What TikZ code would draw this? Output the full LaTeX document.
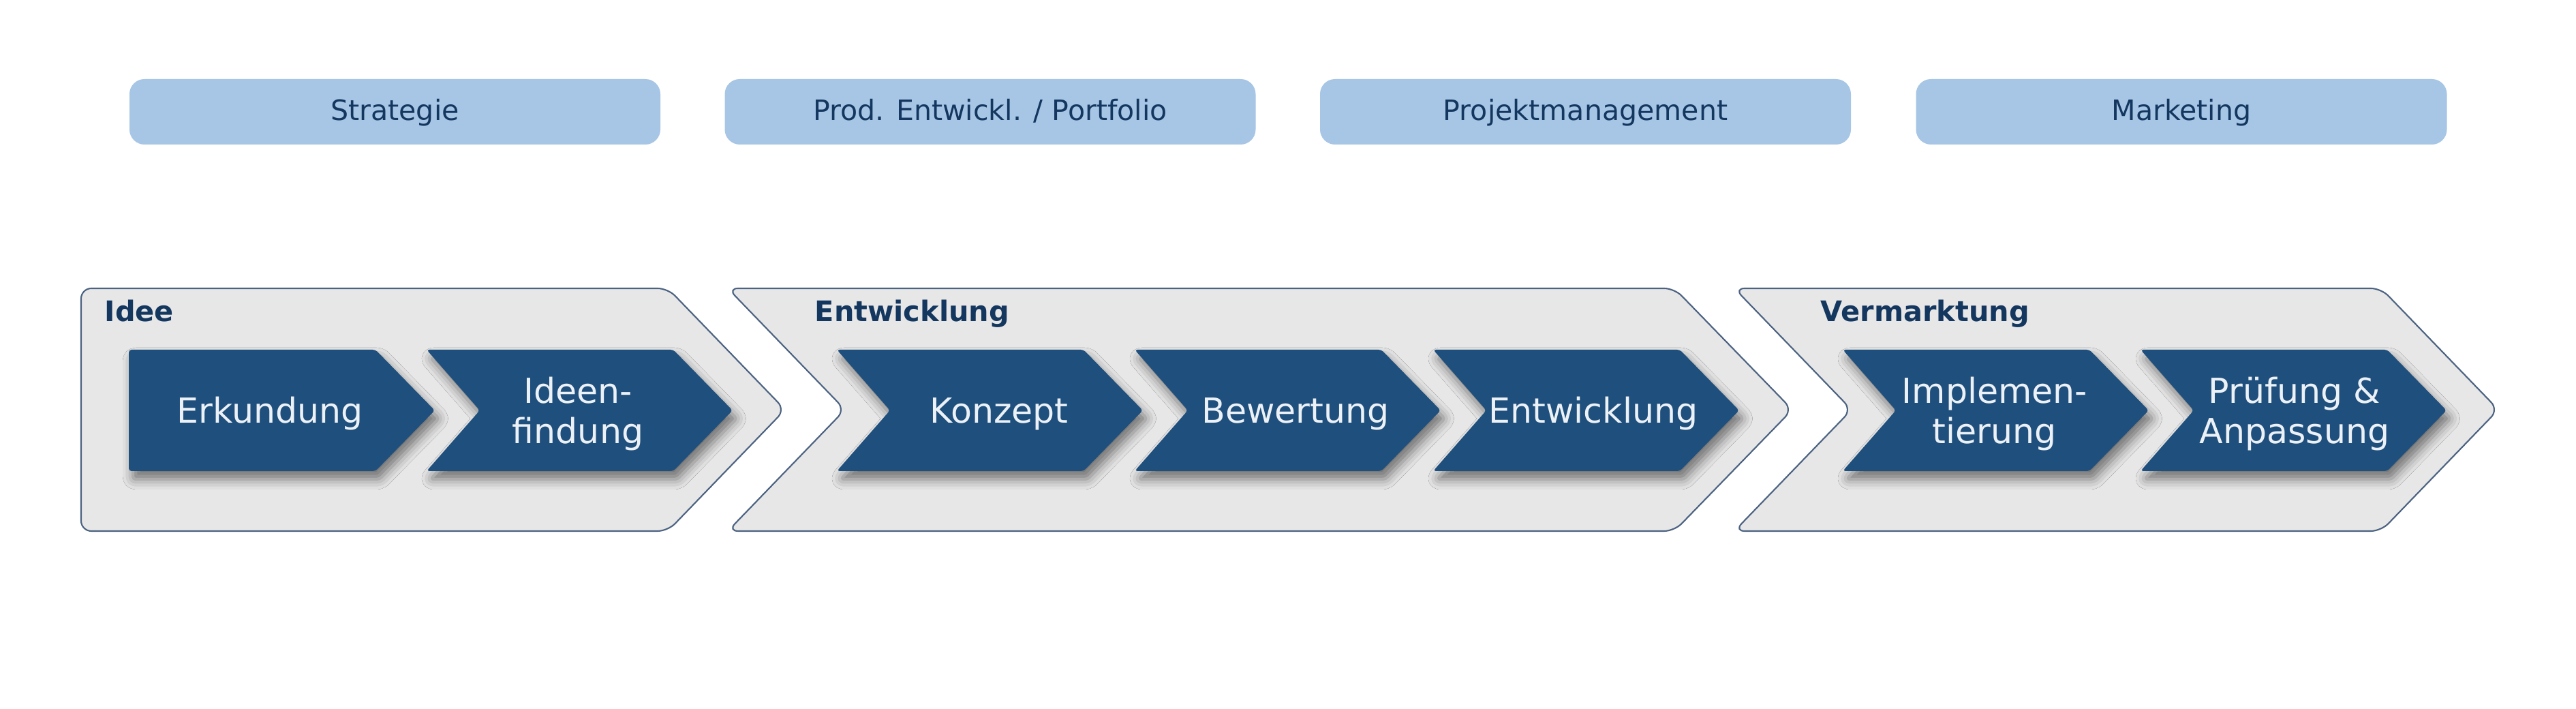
\documentclass[tikz,border=0pt]{standalone}
\usepackage{fontspec}
\setmainfont{DejaVu Sans}
\usetikzlibrary{shadows.blur}

\definecolor{navy}{RGB}{20,55,95}
\definecolor{stepblue}{RGB}{31,79,125}
\definecolor{rolebox}{RGB}{167,197,229}
\definecolor{phasegray}{RGB}{231,231,231}
\definecolor{phaseline}{RGB}{75,98,130}
\definecolor{steptext}{RGB}{236,241,246}

\tikzset{
  role/.style={fill=rolebox, rounded corners=0.22cm, minimum width=7.79cm, minimum height=0.96cm,
    inner sep=0pt, text=navy, font=\fontsize{11.7}{14}\selectfont, text height=0.73em, text depth=0pt},
  phase/.style={fill=phasegray, draw=phaseline, line width=0.6pt, rounded corners=0.15cm},
  phaselabel/.style={anchor=base west, inner sep=0pt, text=navy, font=\bfseries\fontsize{11.8}{14}\selectfont},
  stepbox/.style={fill=stepblue, rounded corners=0.04cm,
    blur shadow={shadow xshift=0.06cm, shadow yshift=-0.12cm, shadow blur radius=0.15cm, shadow opacity=50}},
  steplabel/.style={inner sep=0pt, align=center, text=steptext, font=\fontsize{14.4}{16.8}\selectfont},
}

\begin{document}
\begin{tikzpicture}
    % Canvas
    \path[fill=white, use as bounding box] (0,0) rectangle (37.8,10.4);

    % Functions on top
    \node[role] (strategie) at (5.795,8.76) {Strategie};
    \node[role] (portfolio) at (14.53,8.76) {Prod. Entwickl. / Portfolio};
    \node[role] (projekt) at (23.265,8.76) {Projektmanagement};
    \node[role] (marketing) at (32.01,8.76) {Marketing};

    % Phases (large grey arrows)
    \draw[phase] (1.19,6.17) -- (9.80,6.17) -- (11.52,4.39) -- (9.80,2.61) -- (1.19,2.61) -- cycle;
    \draw[phase] (10.68,6.17) -- (24.57,6.17) -- (26.30,4.39) -- (24.57,2.61) -- (10.68,2.61) -- (12.40,4.39) -- cycle;
    \draw[phase] (25.45,6.17) -- (34.94,6.17) -- (36.66,4.39) -- (34.94,2.61) -- (25.45,2.61) -- (27.17,4.39) -- cycle;

    \node[phaselabel] (idee) at (1.53,5.68) {Idee};
    \node[phaselabel] (entw) at (11.95,5.68) {Entwicklung};
    \node[phaselabel] (verm) at (26.71,5.68) {Vermarktung};

    % Steps in phase Idee
    \fill[stepbox] (1.89,5.27) -- (5.51,5.27) -- (6.38,4.38) -- (5.51,3.49) -- (1.89,3.49) -- cycle;
    \fill[stepbox] (6.26,5.27) -- (9.88,5.27) -- (10.75,4.38) -- (9.88,3.49) -- (6.26,3.49) -- (7.04,4.38) -- cycle;
    \node[steplabel] (erkundung) at (3.96,4.33) {Erkundung};
    \node[steplabel] (ideenfindung) at (8.48,4.33) {Ideen-\\findung};

    % Steps in phase Entwicklung
    \fill[stepbox] (12.28,5.27) -- (15.90,5.27) -- (16.77,4.38) -- (15.90,3.49) -- (12.28,3.49) -- (13.06,4.38) -- cycle;
    \fill[stepbox] (16.65,5.27) -- (20.27,5.27) -- (21.14,4.38) -- (20.27,3.49) -- (16.65,3.49) -- (17.43,4.38) -- cycle;
    \fill[stepbox] (21.03,5.27) -- (24.65,5.27) -- (25.52,4.38) -- (24.65,3.49) -- (21.03,3.49) -- (21.81,4.38) -- cycle;
    \node[steplabel] (konzept) at (14.66,4.33) {Konzept};
    \node[steplabel] (bewertung) at (19.01,4.33) {Bewertung};
    \node[steplabel] (entwicklung) at (23.38,4.33) {Entwicklung};

    % Steps in phase Vermarktung
    \fill[stepbox] (27.04,5.27) -- (30.66,5.27) -- (31.53,4.38) -- (30.66,3.49) -- (27.04,3.49) -- (27.82,4.38) -- cycle;
    \fill[stepbox] (31.41,5.27) -- (35.03,5.27) -- (35.90,4.38) -- (35.03,3.49) -- (31.41,3.49) -- (32.19,4.38) -- cycle;
    \node[steplabel] (implementierung) at (29.27,4.33) {Implemen-\\tierung};
    \node[steplabel] (pruefung) at (33.67,4.33) {Prüfung \&\\Anpassung};
\end{tikzpicture}
\end{document}
